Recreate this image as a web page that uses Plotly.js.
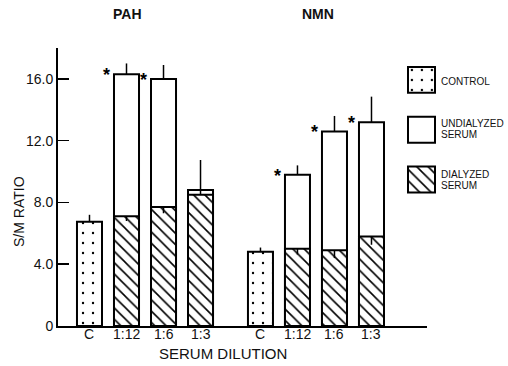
<!DOCTYPE html>
<html>
<head>
<meta charset="utf-8">
<script src="https://cdn.plot.ly/plotly-3.0.1.min.js"></script>
<style>html,body{margin:0;padding:0;background:#fff;}#chart{width:508px;height:366px;}</style>
</head>
<body>
<div id="chart"></div>
<script>
// ---- data ----
const groups = ['PAH', 'NMN'];
const dilutions = ['1:12', '1:6', '1:3'];
const controlLabel = 'C';
const controlValues = [6.75, 4.8];
const controlErr = [0.45, 0.28];
// order: PAH 1:12, 1:6, 1:3, NMN 1:12, 1:6, 1:3
const undialyzedValues = [16.3, 16.0, 8.8, 9.8, 12.6, 13.2];
const undialyzedErrUp = [0.7, 0.9, 1.95, 0.6, 1.0, 1.65];
const undialyzedErrDown = [0, 0, 1.7, 0, 0, 0];
const dialyzedValues = [7.1, 7.7, 8.5, 5.0, 4.9, 5.8];
const dialyzedErrDown = [0.3, 0.4, 0, 0.37, 0.5, 0.54];
const significant = [true, true, false, true, true, true];
const yTickVals = [0, 4, 8, 12, 16];
const yTickText = ['0', '4.0', '8.0', '12.0', '16.0'];
const legendLabels = [['CONTROL'], ['UNDIALYZED', 'SERUM'], ['DIALYZED', 'SERUM']];
const yTitle = 'S/M RATIO';
const xTitle = 'SERUM DILUTION';

// ---- layout helpers ----
const GROUP_STEP = 4.62;
const BAR_W = 0.676;
const ML = 58, MT = 48, MB = 40, W = 508, H = 366;
const PW = W - ML, PH = H - MT - MB;
const px2x = p => (p - ML) / PW;
const px2y = p => (H - MB - p) / PH;
const font = 'Liberation Sans, Arial, sans-serif';

const ctrlX = groups.map((g, gi) => gi * GROUP_STEP);
const dilX = [];
groups.forEach((g, gi) => dilutions.forEach((d, di) => dilX.push(gi * GROUP_STEP + di + 1)));

const tickVals = [], tickText = [];
groups.forEach((g, gi) => {
  tickVals.push(gi * GROUP_STEP); tickText.push(controlLabel);
  dilutions.forEach((d, di) => { tickVals.push(gi * GROUP_STEP + di + 1); tickText.push(d); });
});

const outline = {color: 'black', width: 2};
const dotPattern = {shape: '.', size: 10, solidity: 0.045, fgcolor: 'black', bgcolor: 'white'};
const hatchPattern = {shape: '\\', size: 8, solidity: 0.2, fgcolor: 'black', bgcolor: 'white'};

const traces = [
  {type: 'bar', x: ctrlX, y: controlValues, width: BAR_W,
   marker: {color: 'white', line: outline, pattern: dotPattern},
   error_y: {type: 'data', symmetric: false, array: controlErr, arrayminus: controlErr.map(() => 0), width: 0, thickness: 1.5, color: 'black'}},
  {type: 'bar', x: dilX, y: undialyzedValues, width: BAR_W,
   marker: {color: 'white', line: outline},
   error_y: {type: 'data', symmetric: false, array: undialyzedErrUp, arrayminus: undialyzedErrDown, width: 0, thickness: 1.5, color: 'black'}},
  {type: 'bar', x: dilX, y: dialyzedValues, width: BAR_W,
   marker: {color: 'white', line: outline, pattern: hatchPattern},
   error_y: {type: 'data', symmetric: false, array: dialyzedValues.map(() => 0), arrayminus: dialyzedErrDown, width: 0, thickness: 1.5, color: 'black'}}
];

// legend swatches drawn as bars on an auxiliary axis pair
const swatchPatterns = [dotPattern, null, hatchPattern];
legendLabels.forEach((lab, i) => {
  const m = {color: 'white', line: outline};
  if (swatchPatterns[i]) m.pattern = swatchPatterns[i];
  traces.push({type: 'bar', orientation: 'h', x: [1], y: [i], width: 0.52, base: 0,
    xaxis: 'x2', yaxis: 'y2', marker: m, hoverinfo: 'skip'});
});

const annotations = [];
const ann = (text, xp, yp, opts) => annotations.push(Object.assign({
  text, x: px2x(xp), y: px2y(yp), xref: 'paper', yref: 'paper', showarrow: false,
  font: {family: font, size: 14, color: '#111'}, xanchor: 'center', yanchor: 'middle'}, opts || {}));

ann(groups[0], 127, 14, {font: {family: font, size: 14, color: '#111', weight: 'bold'}});
ann(groups[1], 318, 14, {font: {family: font, size: 14, color: '#111', weight: 'bold'}});
ann(yTitle, 19, 212, {textangle: -90, font: {family: font, size: 14, color: '#111'}});
ann(xTitle, 223, 353, {font: {family: font, size: 15, color: '#111'}});

// category labels under the bars
tickVals.forEach((v, i) => annotations.push({text: tickText[i], x: v, y: px2y(333.5), xref: 'x', yref: 'paper',
  showarrow: false, xanchor: 'center', yanchor: 'middle', font: {family: font, size: 14, color: '#111'}}));

const legendY = [[81], [123, 134], [174, 185]];
legendLabels.forEach((lines, i) => lines.forEach((t, j) =>
  ann(t, 439, legendY[i][j], {xanchor: 'left', font: {family: font, size: 10, color: '#111'}})));

// significance stars
dilX.forEach((x, i) => {
  if (!significant[i]) return;
  annotations.push({text: '*', x: x - BAR_W / 2, y: undialyzedValues[i], xref: 'x', yref: 'y',
    showarrow: false, xanchor: 'right', yanchor: 'middle', xshift: -2, yshift: -1,
    font: {family: font, size: 18, color: 'black', weight: 'bold'}});
});

const layout = {
  width: W, height: H,
  margin: {l: ML, r: 0, t: MT, b: MB},
  paper_bgcolor: 'white', plot_bgcolor: 'rgba(0,0,0,0)',
  showlegend: false, barmode: 'overlay',
  font: {family: font, size: 14, color: '#111'},
  xaxis: {domain: [0, 369 / PW], range: [-0.851, 9.12], showticklabels: false,
    showline: true, linecolor: 'black', linewidth: 2, ticks: '', showgrid: false, zeroline: false},
  yaxis: {range: [0, 18.0], tickvals: yTickVals, ticktext: yTickText, showline: true, linecolor: 'black',
    linewidth: 2, ticks: 'inside', ticklen: 11, tickwidth: 1.5, tickcolor: 'black', showgrid: false,
    zeroline: false, tickfont: {family: font, size: 14, color: '#111'}},
  xaxis2: {domain: [px2x(406.9), px2x(436.1)], range: [-0.04, 1.04], anchor: 'y2', visible: false},
  yaxis2: {domain: [px2y(204.4), px2y(55)], range: [2.5, -0.5], anchor: 'x2', visible: false},
  annotations
};

Plotly.newPlot('chart', traces, layout, {displayModeBar: false, staticPlot: true});
</script>
</body>
</html>
